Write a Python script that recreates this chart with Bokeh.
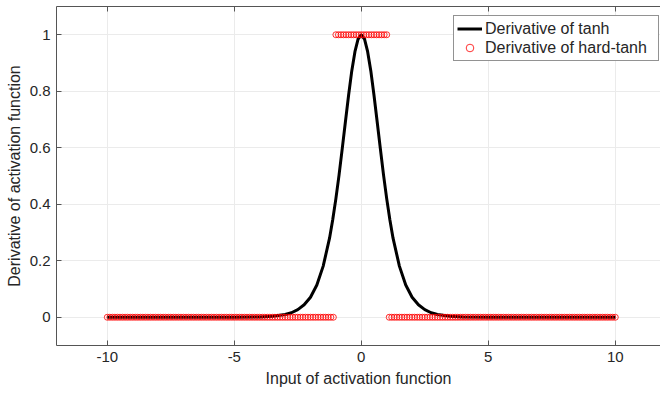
from bokeh.plotting import figure
from bokeh.models import LinearAxis, Range1d, FixedTicker, Legend, LegendItem, CustomJSTickFormatter
from bokeh.embed import file_html
from bokeh.resources import INLINE

# ---- data ----
tanh_x = [-10, -6, -5, -4, -3.5, -3, -2.75, -2.5, -2.25, -2, -1.75, -1.5, -1.25,
          -1.125, -1, -0.875, -0.75, -0.625, -0.5, -0.375, -0.25, -0.125, 0,
          0.125, 0.25, 0.375, 0.5, 0.625, 0.75, 0.875, 1, 1.125, 1.25, 1.5, 1.75,
          2, 2.25, 2.5, 2.75, 3, 3.5, 4, 5, 6, 10]
tanh_y = [0, 0, 0.0002, 0.0013, 0.0036, 0.0099, 0.016, 0.027, 0.044, 0.071, 0.114, 0.181, 0.280,
          0.345, 0.420, 0.504, 0.597, 0.692, 0.786, 0.872, 0.940, 0.985, 1.0,
          0.985, 0.940, 0.872, 0.786, 0.692, 0.597, 0.504, 0.420, 0.345, 0.280, 0.181, 0.114,
          0.071, 0.044, 0.027, 0.016, 0.0099, 0.0036, 0.0013, 0.0002, 0, 0]

hard_x = [
    -10.0, -9.9, -9.8, -9.7, -9.6, -9.5, -9.4, -9.3, -9.2, -9.1,
    -9.0, -8.9, -8.8, -8.7, -8.6, -8.5, -8.4, -8.3, -8.2, -8.1,
    -8.0, -7.9, -7.8, -7.7, -7.6, -7.5, -7.4, -7.3, -7.2, -7.1,
    -7.0, -6.9, -6.8, -6.7, -6.6, -6.5, -6.4, -6.3, -6.2, -6.1,
    -6.0, -5.9, -5.8, -5.7, -5.6, -5.5, -5.4, -5.3, -5.2, -5.1,
    -5.0, -4.9, -4.8, -4.7, -4.6, -4.5, -4.4, -4.3, -4.2, -4.1,
    -4.0, -3.9, -3.8, -3.7, -3.6, -3.5, -3.4, -3.3, -3.2, -3.1,
    -3.0, -2.9, -2.8, -2.7, -2.6, -2.5, -2.4, -2.3, -2.2, -2.1,
    -2.0, -1.9, -1.8, -1.7, -1.6, -1.5, -1.4, -1.3, -1.2, -1.1,
    -1.0, -0.9, -0.8, -0.7, -0.6, -0.5, -0.4, -0.3, -0.2, -0.1,
    0.0, 0.1, 0.2, 0.3, 0.4, 0.5, 0.6, 0.7, 0.8, 0.9, 1.0,
    1.1, 1.2, 1.3, 1.4, 1.5, 1.6, 1.7, 1.8, 1.9, 2.0,
    2.1, 2.2, 2.3, 2.4, 2.5, 2.6, 2.7, 2.8, 2.9, 3.0,
    3.1, 3.2, 3.3, 3.4, 3.5, 3.6, 3.7, 3.8, 3.9, 4.0,
    4.1, 4.2, 4.3, 4.4, 4.5, 4.6, 4.7, 4.8, 4.9, 5.0,
    5.1, 5.2, 5.3, 5.4, 5.5, 5.6, 5.7, 5.8, 5.9, 6.0,
    6.1, 6.2, 6.3, 6.4, 6.5, 6.6, 6.7, 6.8, 6.9, 7.0,
    7.1, 7.2, 7.3, 7.4, 7.5, 7.6, 7.7, 7.8, 7.9, 8.0,
    8.1, 8.2, 8.3, 8.4, 8.5, 8.6, 8.7, 8.8, 8.9, 9.0,
    9.1, 9.2, 9.3, 9.4, 9.5, 9.6, 9.7, 9.8, 9.9, 10.0,
]
hard_y = [
    0, 0, 0, 0, 0, 0, 0, 0, 0, 0, 0, 0, 0, 0, 0, 0, 0, 0, 0, 0, 0, 0, 0, 0, 0, 0, 0, 0, 0, 0,
    0, 0, 0, 0, 0, 0, 0, 0, 0, 0, 0, 0, 0, 0, 0, 0, 0, 0, 0, 0, 0, 0, 0, 0, 0, 0, 0, 0, 0, 0,
    0, 0, 0, 0, 0, 0, 0, 0, 0, 0, 0, 0, 0, 0, 0, 0, 0, 0, 0, 0, 0, 0, 0, 0, 0, 0, 0, 0, 0, 0,
    1, 1, 1, 1, 1, 1, 1, 1, 1, 1, 1, 1, 1, 1, 1, 1, 1, 1, 1, 1, 1,
    0, 0, 0, 0, 0, 0, 0, 0, 0, 0, 0, 0, 0, 0, 0, 0, 0, 0, 0, 0, 0, 0, 0, 0, 0, 0, 0, 0, 0, 0,
    0, 0, 0, 0, 0, 0, 0, 0, 0, 0, 0, 0, 0, 0, 0, 0, 0, 0, 0, 0, 0, 0, 0, 0, 0, 0, 0, 0, 0, 0,
    0, 0, 0, 0, 0, 0, 0, 0, 0, 0, 0, 0, 0, 0, 0, 0, 0, 0, 0, 0, 0, 0, 0, 0, 0, 0, 0, 0, 0, 0,
]

x_ticks = [-10, -5, 0, 5, 10]
x_tick_labels = ["-10", "-5", "0", "5", "10"]
y_ticks = [0, 0.2, 0.4, 0.6, 0.8, 1]
y_tick_labels = ["0", "0.2", "0.4", "0.6", "0.8", "1"]
x_label = "Input of activation function"
y_label = "Derivative of activation function"
legend_labels = ["Derivative of tanh", "Derivative of hard-tanh"]

FONT = "Liberation Sans"
TXT = "#262626"
AX = "#555555"

p = figure(width=660, height=397, output_backend="svg", toolbar_location=None,
           x_range=Range1d(-12, 11.78), y_range=Range1d(-0.1, 1.1),
           min_border_left=56, min_border_right=0, min_border_top=6, min_border_bottom=52,
           x_axis_label=x_label, y_axis_label=y_label)
p.outline_line_color = None
p.background_fill_color = "white"
p.border_fill_color = "white"

for ax, ticks, labels in ((p.xaxis[0], x_ticks, x_tick_labels), (p.yaxis[0], y_ticks, y_tick_labels)):
    ax.ticker = FixedTicker(ticks=ticks)
    ax.major_label_overrides = {t: l for t, l in zip(ticks, labels)}
    ax.major_tick_in = 5
    ax.major_tick_out = 0
    ax.minor_tick_line_color = None
    ax.axis_line_color = AX
    ax.major_tick_line_color = AX
    ax.major_label_text_font = FONT
    ax.major_label_text_font_size = "15px"
    ax.major_label_text_color = TXT
    ax.axis_label_text_font = FONT
    ax.axis_label_text_font_size = "16px"
    ax.axis_label_text_font_style = "normal"
    ax.axis_label_text_color = TXT
    ax.major_label_standoff = 6
    ax.axis_label_standoff = 5

p.yaxis[0].axis_label_standoff = 4

top = LinearAxis(ticker=FixedTicker(ticks=x_ticks), major_tick_in=5, major_tick_out=0,
                 minor_tick_line_color=None, axis_line_color=AX, major_tick_line_color=AX,
                 formatter=CustomJSTickFormatter(code="return '';"), major_label_standoff=0)
p.add_layout(top, "above")

p.xgrid.ticker = FixedTicker(ticks=x_ticks)
p.ygrid.ticker = FixedTicker(ticks=y_ticks)
p.grid.grid_line_color = "#ebebeb"
p.grid.grid_line_width = 1

r_line = p.line(tanh_x, tanh_y, line_color="black", line_width=3)
r_pts = p.scatter(hard_x, hard_y, marker="circle", size=6, fill_color=None,
                  line_color="red", line_width=0.8)

legend = Legend(items=[LegendItem(label=legend_labels[0], renderers=[r_line]),
                       LegendItem(label=legend_labels[1], renderers=[r_pts])],
                location=(397, 284), orientation="vertical")
legend.label_text_font = FONT
legend.label_text_font_size = "16px"
legend.label_text_color = TXT
legend.border_line_color = "#262626"
legend.border_line_width = 1
legend.background_fill_color = "white"
legend.background_fill_alpha = 1
legend.padding = 3
legend.spacing = 0
legend.margin = 0
legend.glyph_width = 25
legend.glyph_height = 19
legend.label_height = 19
legend.label_width = 170
legend.label_standoff = 3
p.add_layout(legend, "center")

open("out.html", "w").write(file_html(p, INLINE))
